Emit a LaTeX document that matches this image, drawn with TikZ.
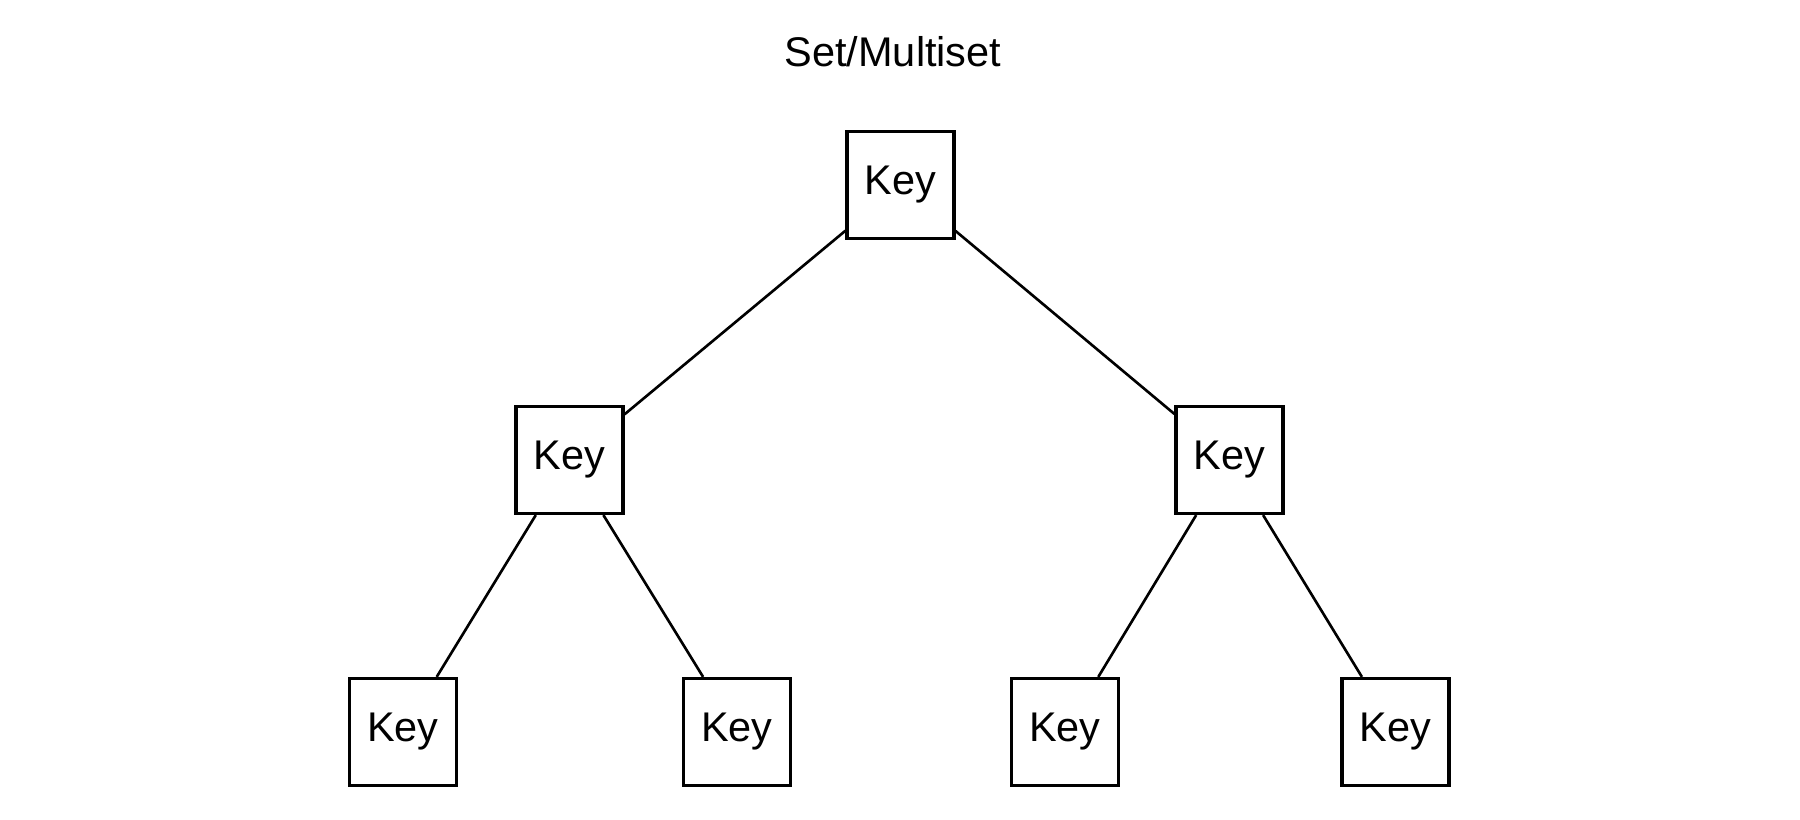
\documentclass[tikz,border=0pt]{standalone}
\usepackage{fontspec}
\setmainfont{Liberation Sans}

\begin{document}
\begin{tikzpicture}[keybox/.style={draw,line width=0.9pt,inner sep=0pt,minimum size=1.07cm,
        font=\fontsize{11.8}{14}\selectfont},
        branch/.style={line width=0.75pt}]
        \useasboundingbox (0,0) rectangle (18,8.19);
        \node[anchor=base,font=\fontsize{11.8}{14}\selectfont] (title) at (8.93,7.523) {Set/Multiset};
        % root
        \node[keybox] (root) at (9.005,6.34) {Key};
        % middle level
        \node[keybox] (left) at (5.695,3.59) {Key};
        \node[keybox] (right) at (12.295,3.59) {Key};
        % leaves
        \node[keybox] (leftleft) at (4.03,0.87) {Key};
        \node[keybox] (leftright) at (7.37,0.87) {Key};
        \node[keybox] (rightleft) at (10.65,0.87) {Key};
        \node[keybox] (rightright) at (13.955,0.87) {Key};
        \draw[branch] (root) -- (left);
        \draw[branch] (root) -- (right);
        \draw[branch] (left) -- (leftleft);
        \draw[branch] (left) -- (leftright);
        \draw[branch] (right) -- (rightleft);
        \draw[branch] (right) -- (rightright);
    \end{tikzpicture}
\end{document}
